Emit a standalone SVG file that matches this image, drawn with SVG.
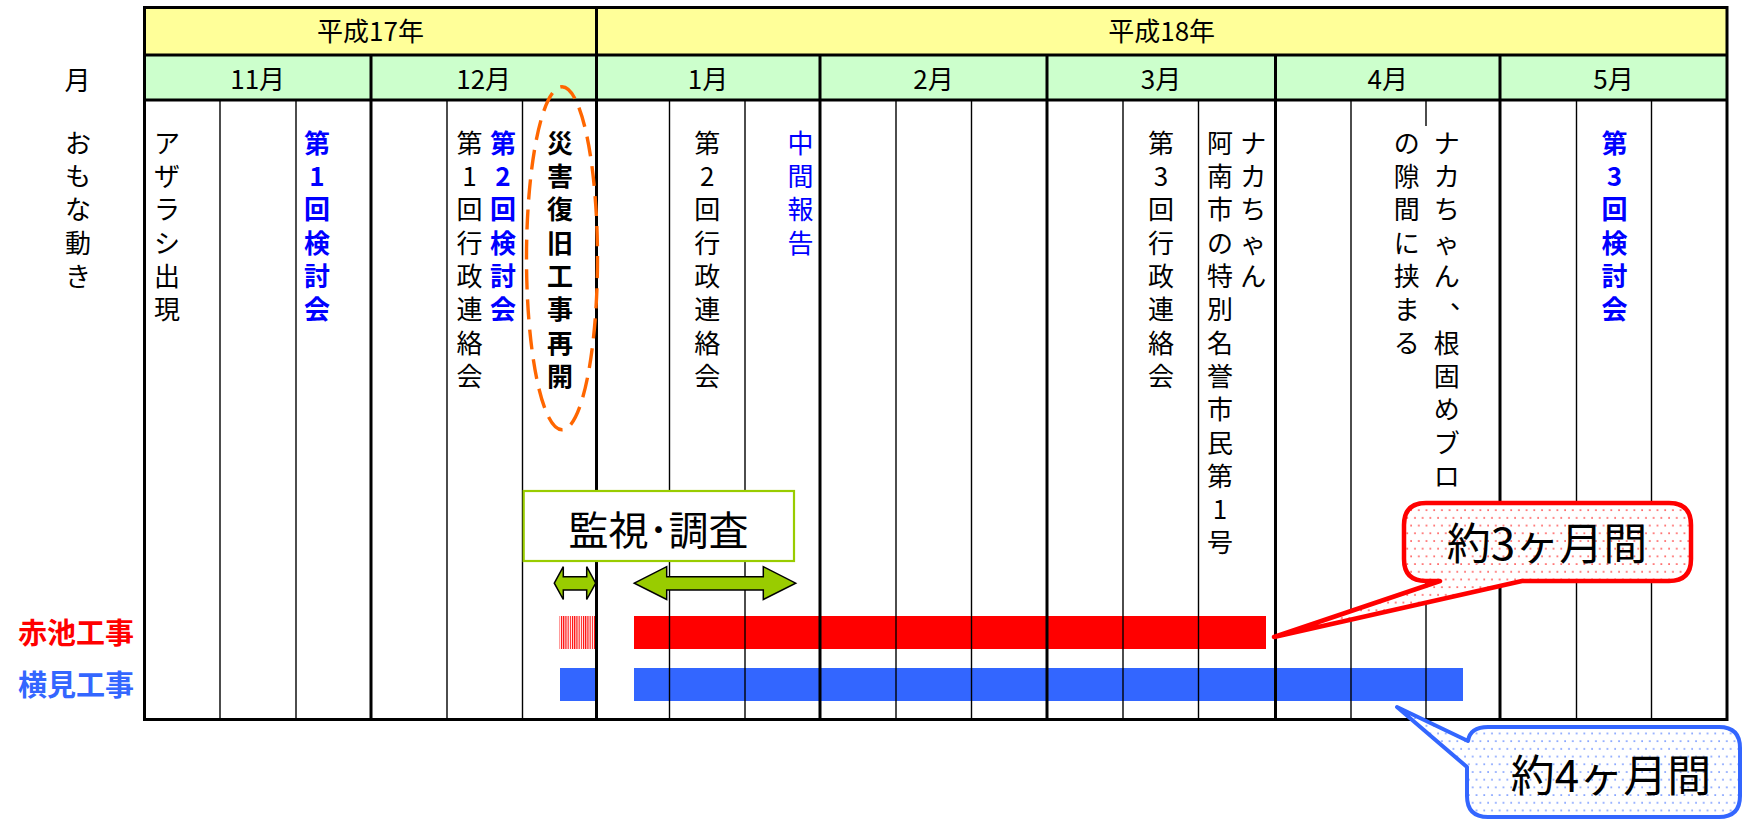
<svg xmlns="http://www.w3.org/2000/svg" width="1744" height="821" viewBox="0 0 1744 821">
<style>
.t{font-family:"Noto Sans CJK JP","Noto Sans",sans-serif;fill:#000}
.h{font-size:26px;text-anchor:middle}
.v{font-size:26px;text-anchor:middle}
.b{font-weight:bold}
.blue{fill:#0000FF}
.thick{stroke:#000;stroke-width:3;fill:none}
.thin{stroke:#000;stroke-width:1.4}
.arrow{fill:#99CC00;stroke:#000;stroke-width:1.5;stroke-linejoin:miter}
</style>
<defs>
<pattern id="hatch" width="2.2" height="10" patternUnits="userSpaceOnUse"><rect width="1.1" height="10" fill="#FF0000"/></pattern>
<pattern id="dotsR" width="15.4" height="15.4" patternUnits="userSpaceOnUse"><rect width="15.4" height="15.4" fill="#fff"/><circle cx="2" cy="2" r="0.8" fill="#FF0000"/><circle cx="9.7" cy="2" r="0.8" fill="#FF0000"/><circle cx="5.85" cy="9.7" r="0.8" fill="#FF0000"/><circle cx="13.55" cy="9.7" r="0.8" fill="#FF0000"/></pattern>
<pattern id="dotsB" width="15.4" height="15.4" patternUnits="userSpaceOnUse"><rect width="15.4" height="15.4" fill="#fff"/><circle cx="2" cy="2" r="0.8" fill="#3366FF"/><circle cx="9.7" cy="2" r="0.8" fill="#3366FF"/><circle cx="5.85" cy="9.7" r="0.8" fill="#3366FF"/><circle cx="13.55" cy="9.7" r="0.8" fill="#3366FF"/></pattern>
</defs>
<rect width="1744" height="821" fill="#fff"/>

<g id="table">
<rect x="144.5" y="7.5" width="1582.5" height="47.5" fill="#FFFF99"/>
<rect x="144.5" y="55" width="1582.5" height="45" fill="#CCFFCC"/>
</g>

<g id="bars">
<rect x="559.5" y="616" width="36" height="33" fill="url(#hatch)"/>
<rect x="634" y="616" width="632" height="33" fill="#FF0000"/>
<rect x="560" y="668" width="36" height="33" fill="#3366FF"/>
<rect x="634" y="668" width="829" height="33" fill="#3366FF"/>
</g>

<g id="grid">
<g class="thin">
<line x1="220" y1="100" x2="220" y2="719.5"/>
<line x1="296" y1="100" x2="296" y2="719.5"/>
<line x1="447" y1="100" x2="447" y2="719.5"/>
<line x1="522.5" y1="100" x2="522.5" y2="719.5"/>
<line x1="669.5" y1="100" x2="669.5" y2="719.5"/>
<line x1="745" y1="100" x2="745" y2="719.5"/>
<line x1="896" y1="100" x2="896" y2="719.5"/>
<line x1="971.5" y1="100" x2="971.5" y2="719.5"/>
<line x1="1123" y1="100" x2="1123" y2="719.5"/>
<line x1="1198.5" y1="100" x2="1198.5" y2="719.5"/>
<line x1="1351" y1="100" x2="1351" y2="719.5"/>
<line x1="1426" y1="100" x2="1426" y2="126"/>
<line x1="1426" y1="505" x2="1426" y2="719.5"/>
<line x1="1576.5" y1="100" x2="1576.5" y2="719.5"/>
<line x1="1651.5" y1="100" x2="1651.5" y2="719.5"/>
</g>
<g class="thick">
<line x1="144.5" y1="55" x2="1727" y2="55"/>
<line x1="144.5" y1="100" x2="1727" y2="100"/>
<line x1="596.5" y1="7.5" x2="596.5" y2="719.5"/>
<line x1="371" y1="55" x2="371" y2="719.5"/>
<line x1="820" y1="55" x2="820" y2="719.5"/>
<line x1="1047" y1="55" x2="1047" y2="719.5"/>
<line x1="1275.5" y1="55" x2="1275.5" y2="719.5"/>
<line x1="1500" y1="55" x2="1500" y2="719.5"/>
<rect x="144.5" y="7.5" width="1582.5" height="712"/>
</g>
</g>

<g id="headers">
<text class="t h" x="370.5" y="41.2">平成17年</text>
<text class="t h" x="1161.7" y="41.2">平成18年</text>
<text class="t h" x="257.7" y="88.7">11月</text>
<text class="t h" x="483.7" y="88.7">12月</text>
<text class="t h" x="708" y="88.7">1月</text>
<text class="t h" x="933.5" y="88.7">2月</text>
<text class="t h" x="1161" y="88.7">3月</text>
<text class="t h" x="1387.7" y="88.7">4月</text>
<text class="t h" x="1613.5" y="88.7">5月</text>
</g>

<g id="left-labels">
<text class="t h" x="77.5" y="89.5">月</text>
<text class="t v" x="78 78 78 78 78" y="152.8 186.1 219.4 252.7 286">おもな動き</text>
<text class="t b" x="18" y="644" font-size="29" style="fill:#FF0000">赤池工事</text>
<text class="t b" x="18" y="695.6" font-size="29" style="fill:#3366FF">横見工事</text>
</g>

<g id="events">
<text class="t v" x="167 167 167 167 167 167" y="152.8 186.1 219.4 252.7 286 319.3">アザラシ出現</text>
<text class="t v b blue" x="317 317 317 317 317 317" y="152.8 186.1 219.4 252.7 286 319.3">第1回検討会</text>
<text class="t v" x="469.5 469.5 469.5 469.5 469.5 469.5 469.5 469.5" y="152.8 186.1 219.4 252.7 286 319.3 352.6 385.9">第1回行政連絡会</text>
<text class="t v b blue" x="503 503 503 503 503 503" y="152.8 186.1 219.4 252.7 286 319.3">第2回検討会</text>
<text class="t v b" x="560 560 560 560 560 560 560 560" y="152.8 186.1 219.4 252.7 286 319.3 352.6 385.9">災害復旧工事再開</text>
<text class="t v" x="707.3 707.3 707.3 707.3 707.3 707.3 707.3 707.3" y="152.8 186.1 219.4 252.7 286 319.3 352.6 385.9">第2回行政連絡会</text>
<text class="t v blue" x="800.5 800.5 800.5 800.5" y="152.8 186.1 219.4 252.7">中間報告</text>
<text class="t v" x="1161 1161 1161 1161 1161 1161 1161 1161" y="152.8 186.1 219.4 252.7 286 319.3 352.6 385.9">第3回行政連絡会</text>
<text class="t v" x="1253.3 1253.3 1253.3 1253.3 1253.3" y="152.8 186.1 219.4 252.7 286">ナカちゃん</text>
<text class="t v" x="1220 1220 1220 1220 1220 1220 1220 1220 1220 1220 1220 1220 1220" y="152.8 186.1 219.4 252.7 286 319.3 352.6 385.9 419.2 452.5 485.8 519.1 552.4">阿南市の特別名誉市民第1号</text>
<text class="t v" x="1446.7 1446.7 1446.7 1446.7 1446.7 1463 1446.7 1446.7 1446.7 1446.7 1446.7" y="152.8 186.1 219.4 252.7 286 309 352.6 385.9 419.2 452.5 485.8">ナカちゃん、根固めブロ</text>
<text class="t v" x="1406.7 1406.7 1406.7 1406.7 1406.7 1406.7 1406.7" y="152.8 186.1 219.4 252.7 286 319.3 352.6">の隙間に挟まる</text>
<text class="t v b blue" x="1614.4 1614.4 1614.4 1614.4 1614.4 1614.4" y="152.8 186.1 219.4 252.7 286 319.3">第3回検討会</text>
</g>

<g id="highlight">
<ellipse cx="562" cy="258.3" rx="35.5" ry="171.5" fill="none" stroke="#FF6600" stroke-width="3.4" stroke-dasharray="20 10"/>
</g>

<g id="monitor">
<rect x="523.7" y="491" width="270.3" height="70" fill="#fff" stroke="#99CC00" stroke-width="2.2"/>
<text class="t" x="658.5" y="545" font-size="40" text-anchor="middle">監視･調査</text>
</g>

<g id="connectors">
<path class="arrow" d="M554.3,583.2 L563.3,566.7 L563.3,576.7 L586.7,576.7 L586.7,566.7 L595.7,583.2 L586.7,599.5 L586.7,590 L563.3,590 L563.3,599.5 Z"/>
<path class="arrow" d="M634.3,583.2 L666.7,566.7 L666.7,576.7 L763.3,576.7 L763.3,566.7 L795.7,583.2 L763.3,599.5 L763.3,590 L666.7,590 L666.7,599.5 Z"/>
</g>

<g id="callout-3">
<path d="M1426,503 H1669 Q1691,503 1691,525 V559 Q1691,581 1669,581 H1522 L1274,637 L1440,581 H1426 Q1404,581 1404,559 V525 Q1404,503 1426,503 Z" fill="url(#dotsR)" stroke="#FF0000" stroke-width="4.5" stroke-linejoin="round"/>
<text class="t" x="1547" y="560" font-size="44" text-anchor="middle">約3ヶ月間</text>
</g>

<g id="callout-4">
<path d="M1488,727 H1719 Q1740,727 1740,748 V796 Q1740,817 1719,817 H1488 Q1467,817 1467,796 V767 L1397,707 L1468,741 Q1470,727 1488,727 Z" fill="url(#dotsB)" stroke="#3366FF" stroke-width="4" stroke-linejoin="round"/>
<text class="t" x="1611" y="792" font-size="44" text-anchor="middle">約4ヶ月間</text>
</g>
</svg>
